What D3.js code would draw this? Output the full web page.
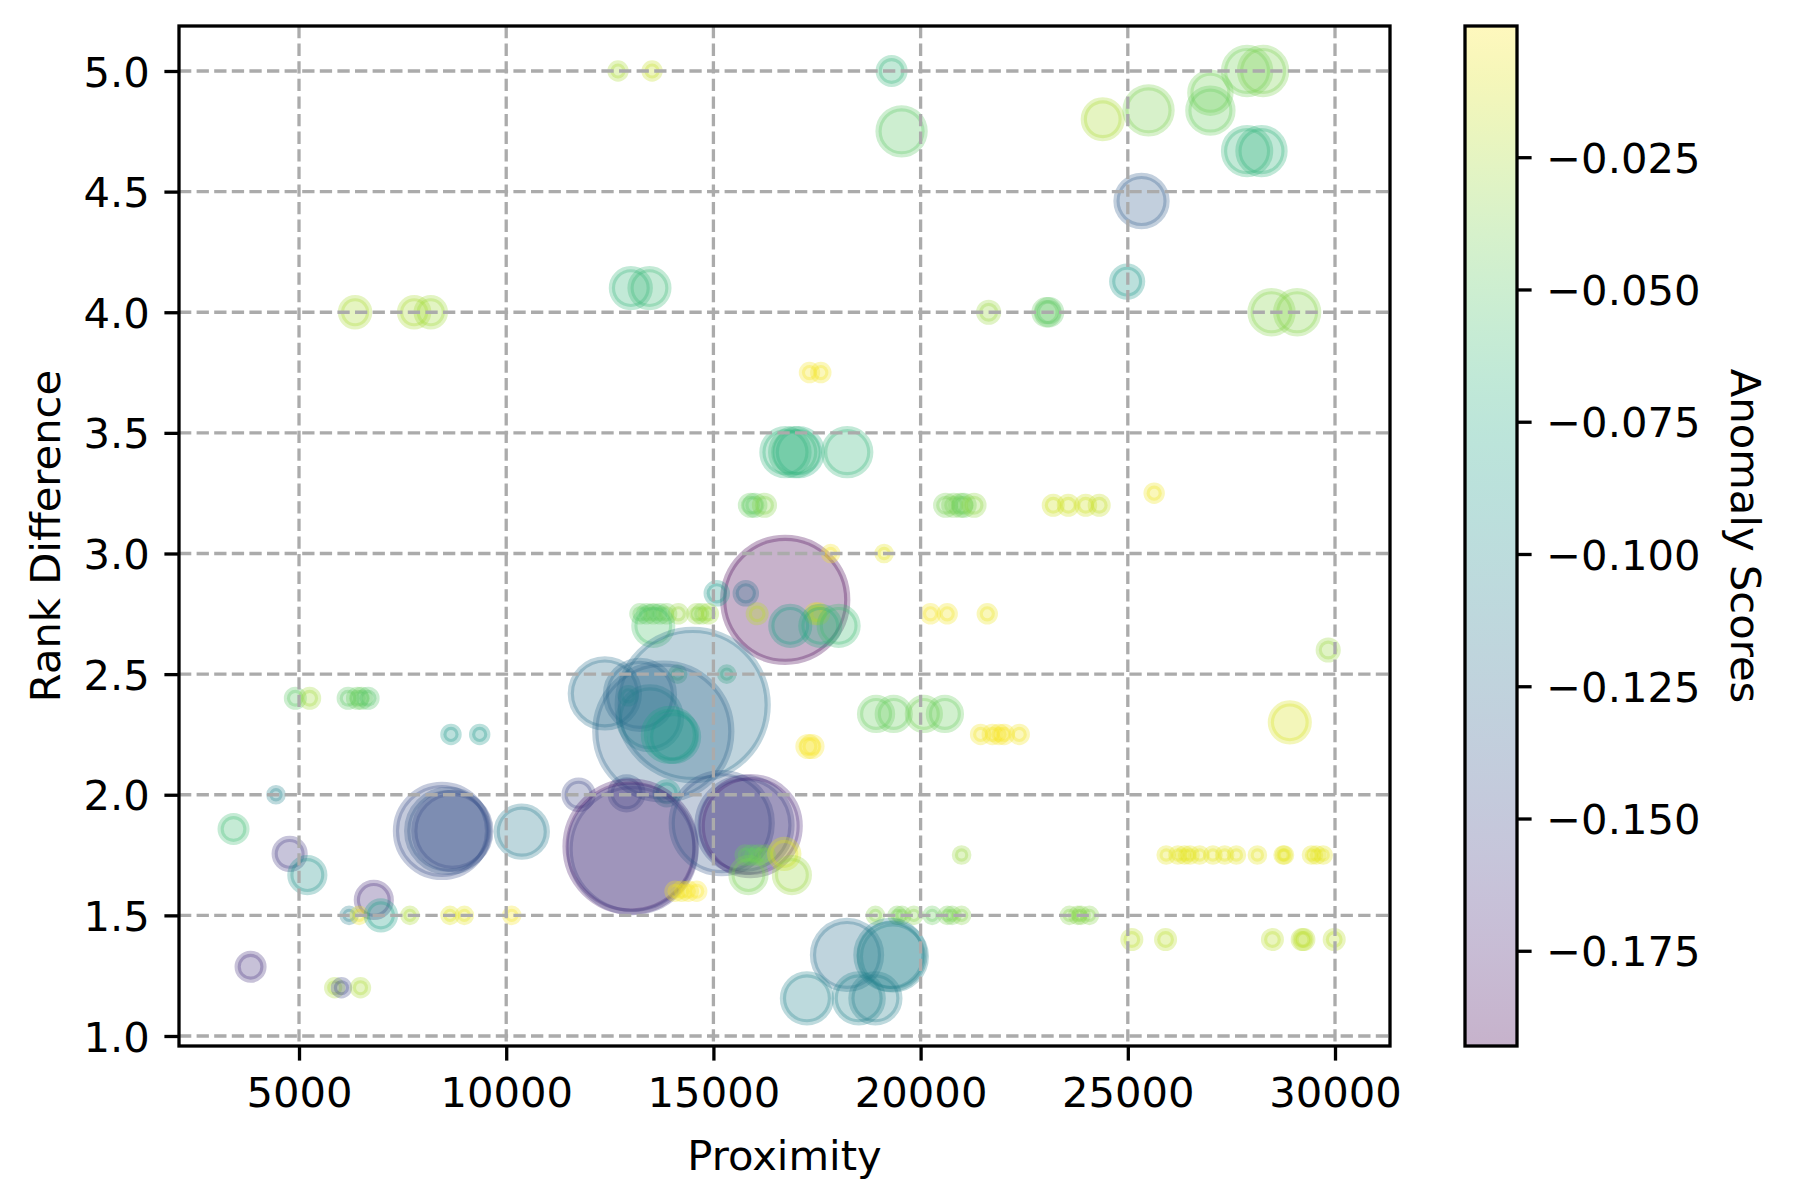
<!DOCTYPE html>
<html>
<head>
<meta charset="utf-8">
<script src="https://cdn.jsdelivr.net/npm/d3@7"></script>
<style>
  body { margin: 0; background: #fff; }
  svg { display: block; font-family: "DejaVu Sans", sans-serif; }
</style>
</head>
<body>
<svg id="chart" width="1800" height="1200"></svg>
<script>

const proximity = [
	6353, 7778, 8180, 12698, 13520, 19300, 19541, 13007, 13457, 21642,
	17318, 17592, 16739, 17061, 16950, 18229, 15893, 16000, 16232, 20604,
	20800, 20966, 21050, 21288, 27878, 28265, 26993, 26993, 24395, 25500,
	27878, 28226, 25331, 24984, 23040, 23100, 28468, 29087, 25636, 23200,
	23563, 23983, 24310, 16733, 17829, 19119, 15081, 15782, 13227, 13388,
	13549, 13710, 13872, 14154, 14597, 14718, 14879, 16056, 17458, 17539,
	20239, 20642, 21609, 13549, 16854, 17579, 18022, 29836, 4911, 5258,
	6185, 6410, 6507, 6668, 8667, 9360, 14138, 15322, 18925, 19352,
	20078, 20586, 28909, 21448, 21730, 21891, 22018, 22380, 17281, 17378,
	14500, 13791, 12380, 13227, 13469, 13950, 14050, 12945, 4444, 3420,
	4774, 5201, 6805, 6209, 6451, 6975, 7676, 8643, 8990, 10134,
	3831, 5862, 6024, 6483, 8450, 8600, 8700, 10376, 11747, 12904,
	13872, 13000, 13050, 15201, 15750, 15900, 15766, 15927, 16088, 16249,
	16709, 15846, 16894, 14073, 14234, 14395, 14597, 20989, 18909, 19433,
	19550, 19836, 20279, 20642, 20760, 20989, 18224, 19272, 19330, 17257,
	18506, 18909, 25927, 26209, 26370, 26500, 26733, 27055, 27337, 27620,
	28127, 28748, 28780, 29433, 29554, 29715, 23590, 23791, 23872, 24073,
	25097, 25911, 28490, 29207, 29250, 29981
]

const rankDifference = [
	4.0, 4.0, 4.0, 5.0, 5.0, 5.0, 4.75, 4.1, 4.1, 4.0,
	3.75, 3.75, 3.42, 3.42, 3.42, 3.42, 3.2, 3.2, 3.2, 3.2,
	3.2, 3.2, 3.2, 3.2, 5.0, 5.0, 4.91, 4.836, 4.8, 4.837,
	4.668, 4.668, 4.461, 4.127, 4.0, 4.0, 4.0, 4.0, 3.25, 3.2,
	3.2, 3.2, 3.2, 2.808, 3.0, 3.0, 2.835, 2.835, 2.75, 2.75,
	2.75, 2.75, 2.75, 2.75, 2.75, 2.75, 2.75, 2.75, 2.75, 2.75,
	2.75, 2.75, 2.75, 2.7, 2.7, 2.7, 2.7, 2.6, 2.4, 2.4,
	2.4, 2.4, 2.4, 2.4, 2.25, 2.25, 2.5, 2.5, 2.335, 2.335,
	2.335, 2.335, 2.3, 2.25, 2.25, 2.25, 2.25, 2.25, 2.2, 2.2,
	2.372, 2.262, 2.42, 2.414, 2.317, 2.248, 2.24, 2.41, 2.0, 1.858,
	1.755, 1.667, 1.564, 1.5, 1.5, 1.5, 1.5, 1.5, 1.5, 1.5,
	1.287, 1.2, 1.2, 1.2, 1.85, 1.85, 1.85, 1.847, 2.0, 2.006,
	2.006, 1.785, 1.775, 1.882, 1.875, 1.87, 1.75, 1.75, 1.75, 1.75,
	1.755, 1.667, 1.667, 1.6, 1.6, 1.6, 1.6, 1.75, 1.5, 1.5,
	1.5, 1.5, 1.5, 1.5, 1.5, 1.5, 1.336, 1.336, 1.33, 1.156,
	1.156, 1.156, 1.75, 1.75, 1.75, 1.75, 1.75, 1.75, 1.75, 1.75,
	1.75, 1.75, 1.75, 1.75, 1.75, 1.75, 1.5, 1.5, 1.5, 1.5,
	1.4, 1.4, 1.4, 1.4, 1.4, 1.4
]

const anomalyScores = [
	-0.025, -0.025, -0.028, -0.025, -0.018, -0.065, -0.05, -0.065, -0.062, -0.03,
	-0.003, -0.004, -0.068, -0.072, -0.065, -0.065, -0.045, -0.048, -0.035, -0.04,
	-0.04, -0.04, -0.045, -0.032, -0.042, -0.038, -0.042, -0.045, -0.025, -0.038,
	-0.065, -0.068, -0.135, -0.09, -0.045, -0.05, -0.035, -0.035, -0.005, -0.015,
	-0.015, -0.015, -0.018, -0.193, -0.003, -0.008, -0.09, -0.12, -0.045, -0.045,
	-0.04, -0.045, -0.04, -0.03, -0.03, -0.035, -0.028, -0.02, -0.008, -0.01,
	-0.003, -0.004, -0.006, -0.055, -0.085, -0.075, -0.06, -0.03, -0.05, -0.028,
	-0.05, -0.045, -0.045, -0.052, -0.09, -0.09, -0.06, -0.065, -0.045, -0.045,
	-0.042, -0.045, -0.012, -0.004, -0.003, -0.003, -0.002, -0.004, -0.003, -0.002,
	-0.12, -0.13, -0.12, -0.128, -0.115, -0.085, -0.09, -0.11, -0.105, -0.06,
	-0.16, -0.095, -0.17, -0.11, -0.005, -0.085, -0.025, -0.01, -0.008, -0.003,
	-0.165, -0.025, -0.15, -0.025, -0.145, -0.14, -0.145, -0.115, -0.15, -0.14,
	-0.09, -0.18, -0.158, -0.14, -0.145, -0.172, -0.045, -0.048, -0.045, -0.04,
	-0.01, -0.04, -0.03, -0.003, -0.005, -0.002, -0.0002, -0.03, -0.035, -0.04,
	-0.038, -0.035, -0.045, -0.04, -0.04, -0.035, -0.12, -0.11, -0.105, -0.105,
	-0.105, -0.11, -0.008, -0.008, -0.008, -0.008, -0.008, -0.008, -0.008, -0.008,
	-0.008, -0.008, -0.008, -0.008, -0.008, -0.008, -0.035, -0.035, -0.035, -0.035,
	-0.02, -0.02, -0.02, -0.02, -0.02, -0.02
]

const bubbleWeight = [
	31, 31, 31, 9, 9, 26, 83, 56, 56, 14,
	9, 9, 83, 83, 83, 83, 14, 14, 14, 14,
	14, 14, 14, 14, 83, 83, 63, 76, 56, 83,
	83, 83, 98, 35, 23, 23, 69, 69, 9, 11,
	11, 11, 11, 601, 7, 7, 16, 16, 9, 9,
	9, 9, 9, 9, 9, 9, 9, 11, 11, 11,
	9, 9, 9, 56, 56, 56, 56, 14, 11, 11,
	11, 11, 11, 11, 9, 9, 7, 7, 40, 40,
	40, 40, 56, 9, 9, 9, 9, 9, 14, 14,
	879, 723, 181, 181, 150, 106, 90, 9, 7, 26,
	35, 45, 45, 7, 7, 31, 7, 7, 7, 7,
	26, 9, 9, 9, 331, 263, 226, 98, 31, 40,
	19, 660, 620, 391, 345, 375, 9, 9, 9, 9,
	31, 45, 45, 9, 9, 9, 9, 7, 7, 7,
	7, 7, 7, 7, 7, 7, 181, 181, 170, 90,
	90, 90, 7, 7, 7, 7, 7, 7, 7, 7,
	7, 7, 7, 7, 7, 7, 7, 7, 7, 7,
	11, 11, 11, 11, 11, 11
]

const xTicks = [5000, 10000, 15000, 20000, 25000, 30000]
const yTicks = [1.0, 1.5, 2.0, 2.5, 3.0, 3.5, 4.0, 4.5, 5.0]
const scoreTicks = [-0.175, -0.150, -0.125, -0.100, -0.075, -0.050, -0.025]

const points = proximity.map((p, i) => ({
	x : p,
	y : rankDifference[i],
	score : anomalyScores[i],
	w : bubbleWeight[i]
}))

const plot = { left : 179, right : 1390, top : 26, bottom : 1046 }
const cbar = { left : 1465, right : 1517, top : 26, bottom : 1046 }
const fontSize = 41.7
const lw = 3.3
const tickLen = 14.6

const svg = d3.select('#chart')

const x = d3.scaleLinear().domain([2104, 31327]).range([plot.left, plot.right])
const y = d3.scaleLinear().domain([0.9585, 5.1865]).range([plot.bottom, plot.top])
const r = d3.scaleSqrt().domain([0, 1000]).range([0, 80])

const scoreExtent = d3.extent(anomalyScores)
const color = d3.scaleSequential(d3.interpolateViridis).domain(scoreExtent)

svg.append('defs')
	.append('clipPath')
	.attr('id', 'plot-clip')
	.append('rect')
	.attr('x', plot.left)
	.attr('y', plot.top)
	.attr('width', plot.right - plot.left)
	.attr('height', plot.bottom - plot.top)

// bubbles
svg.append('g')
	.attr('clip-path', 'url(#plot-clip)')
	.selectAll('circle')
	.data(points)
	.enter()
	.append('circle')
	.attr('cx', d => x(d.x))
	.attr('cy', d => y(d.y))
	.attr('r', d => r(d.w))
	.attr('fill', d => color(d.score))
	.attr('fill-opacity', 0.3)
	.attr('stroke', d => color(d.score))
	.attr('stroke-opacity', 0.3)
	.attr('stroke-width', 6.25)

// grid on top of the bubbles, like matplotlib
const grid = svg.append('g')
	.attr('stroke', '#ababab')
	.attr('stroke-width', lw)
	.attr('stroke-dasharray', '12.3,5.3')

grid.selectAll('.gx')
	.data(xTicks)
	.enter()
	.append('line')
	.attr('x1', d => x(d)).attr('x2', d => x(d))
	.attr('y1', plot.top).attr('y2', plot.bottom)

grid.selectAll('.gy')
	.data(yTicks)
	.enter()
	.append('line')
	.attr('x1', plot.left).attr('x2', plot.right)
	.attr('y1', d => y(d)).attr('y2', d => y(d))

// axes
const xAxis = d3.axisBottom(x)
	.tickValues(xTicks)
	.tickFormat(d3.format('d'))
	.tickSize(tickLen)
	.tickPadding(tickLen)

const yAxis = d3.axisLeft(y)
	.tickValues(yTicks)
	.tickFormat(d3.format('.1f'))
	.tickSize(tickLen)
	.tickPadding(tickLen)

const styleAxis = g => {
	g.select('.domain').remove()
	g.selectAll('.tick line').attr('stroke', '#000').attr('stroke-width', lw)
	g.selectAll('.tick text')
		.attr('fill', '#000')
		.style('font-size', fontSize + 'px')
		.style('font-family', '"DejaVu Sans", sans-serif')
}

svg.append('g')
	.attr('transform', `translate(0,${plot.bottom})`)
	.call(xAxis)
	.call(styleAxis)
	.selectAll('.tick text')
	.attr('dy', '0.76em')

svg.append('g')
	.attr('transform', `translate(${plot.left},0)`)
	.call(yAxis)
	.call(styleAxis)
	.selectAll('.tick text')
	.attr('dy', '0.36em')

svg.append('rect')
	.attr('x', plot.left)
	.attr('y', plot.top)
	.attr('width', plot.right - plot.left)
	.attr('height', plot.bottom - plot.top)
	.attr('fill', 'none')
	.attr('stroke', '#000')
	.attr('stroke-width', lw)

svg.append('text')
	.attr('x', (plot.left + plot.right) / 2)
	.attr('y', 1170)
	.attr('text-anchor', 'middle')
	.style('font-size', fontSize + 'px')
	.text('Proximity')

svg.append('text')
	.attr('transform', `translate(60,${(plot.top + plot.bottom) / 2}) rotate(-90)`)
	.attr('text-anchor', 'middle')
	.style('font-size', fontSize + 'px')
	.text('Rank Difference')

// colorbar
const cScale = d3.scaleLinear().domain(scoreExtent).range([cbar.bottom, cbar.top])

const grad = svg.select('defs')
	.append('linearGradient')
	.attr('id', 'cbar-grad')
	.attr('x1', 0).attr('y1', 1)
	.attr('x2', 0).attr('y2', 0)

grad.selectAll('stop')
	.data(d3.range(0, 1.0001, 0.05))
	.enter()
	.append('stop')
	.attr('offset', d => d)
	.attr('stop-color', d => d3.interpolateViridis(d))

svg.append('rect')
	.attr('x', cbar.left)
	.attr('y', cbar.top)
	.attr('width', cbar.right - cbar.left)
	.attr('height', cbar.bottom - cbar.top)
	.attr('fill', 'url(#cbar-grad)')
	.attr('fill-opacity', 0.3)

svg.append('rect')
	.attr('x', cbar.left)
	.attr('y', cbar.top)
	.attr('width', cbar.right - cbar.left)
	.attr('height', cbar.bottom - cbar.top)
	.attr('fill', 'none')
	.attr('stroke', '#000')
	.attr('stroke-width', lw)

const cAxis = d3.axisRight(cScale)
	.tickValues(scoreTicks)
	.tickFormat(d3.format('.3f'))
	.tickSize(tickLen)
	.tickPadding(tickLen)

svg.append('g')
	.attr('transform', `translate(${cbar.right},0)`)
	.call(cAxis)
	.call(styleAxis)
	.selectAll('.tick text')
	.attr('dy', '0.36em')

svg.append('text')
	.attr('transform', `translate(1731,${(cbar.top + cbar.bottom) / 2}) rotate(90)`)
	.attr('text-anchor', 'middle')
	.style('font-size', fontSize + 'px')
	.text('Anomaly Scores')

</script>
</body>
</html>
